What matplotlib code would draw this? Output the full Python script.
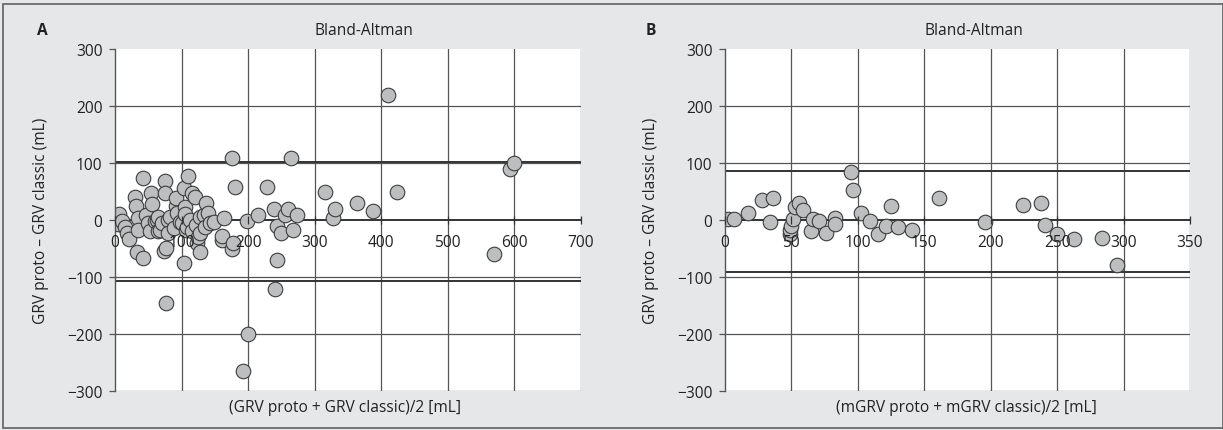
import matplotlib
matplotlib.use("Agg")
import matplotlib.pyplot as plt
from matplotlib.patches import Rectangle

plt.rcParams['font.family'] = ['Open Sans', 'DejaVu Sans']

# ---------------- data ----------------
a_mean = [0, 3, 5, 6, 10, 15, 18, 21, 30, 32, 34, 35, 33, 42, 42, 47, 50, 53, 54, 55,
          60, 63, 65, 65, 68, 70, 73, 75, 75, 76, 77, 80, 80, 83, 88, 91, 92, 93, 98, 101,
          103, 103, 105, 105, 106, 108, 110, 113, 115, 115, 120, 122, 123, 125, 128, 128, 128,
          134, 135, 137, 140, 143, 148, 160, 161, 163, 175, 178, 175, 180, 198, 192, 200, 215,
          229, 239, 240, 244, 244, 250, 255, 260, 265, 268, 273, 315, 328, 330, 363, 388,
          410, 424, 570, 594, 599]
a_diff = [1, 6, -7, 10, -2, -12, -22, -34, 40, 24, 3, -18, -56, -66, 74, 8, -6, -20, 48, 28,
          -2, 0, 6, -20, -17, -6, -55, 68, 48, -49, -146, 0, -23, 5, -14, 24, 38, 12, -3, -5,
          -76, 56, 23, 10, -17, -12, 77, 0, 48, -20, 40, -9, -41, -29, -57, 6, -23,
          9, -12, 29, 13, -6, -3, -35, -28, 4, -50, -41, 108, 58, -2, -265, -200, 9,
          58, 20, -121, -71, -10, -23, 9, 20, 108, -17, 9, 49, 4, 20, 29, 15,
          220, 49, -60, 90, 100]
a_limits = [102, 0, -107]      # upper LoA, mean, lower LoA

b_mean = [2, 7, 17, 28, 36, 34, 49, 49, 50, 51, 53, 56, 59, 65, 66, 71, 76, 83, 83, 95,
          96, 102, 109, 115, 121, 125, 130, 141, 161, 196, 224, 238, 241, 250, 263, 284, 295]
b_diff = [1, 1, 12, 35, 39, -4, -25, -17, -10, 1, 22, 29, 18, -19, 1, -2, -22, 4, -7, 85,
          53, 12, -2, -25, -10, 24, -12, -18, 38, -3, 27, 29, -9, -25, -34, -32, -79]
b_limits = [86, 0, -91]

yticks = [-300, -200, -100, 0, 100, 200, 300]
a_xticks = [0, 100, 200, 300, 400, 500, 600, 700]
b_xticks = [0, 50, 100, 150, 200, 250, 300, 350]

a_xlabel = "(GRV proto + GRV classic)/2 [mL]"
b_xlabel = "(mGRV proto + mGRV classic)/2 [mL]"
ylabel = "GRV proto \u2013 GRV classic (mL)"
title = "Bland-Altman"

# ---------------- figure ----------------
W, H = 1223, 431
fig = plt.figure(figsize=(W / 100, H / 100), dpi=100)
fig.patch.set_facecolor('#e6e7e8')
fig.patches.append(Rectangle((2.5 / W, 2.5 / H), (W - 3) / W, (H - 7) / H,
                             transform=fig.transFigure, fill=False,
                             edgecolor='#6a6a6a', linewidth=1.3))

grid_c = '#555555'
line_c = '#333333'
fs = 11.2


def panel(rect, xs, ys, limits, xticks, xlabel, letter, title_x, letter_x, xlabel_x):
    ax = fig.add_axes(rect)
    ax.set_facecolor('white')
    ax.set_xlim(xticks[0], xticks[-1])
    ax.set_ylim(yticks[0], yticks[-1])
    for s in ['top', 'right']:
        ax.spines[s].set_visible(False)
    ax.spines['left'].set_color(grid_c)
    ax.spines['left'].set_linewidth(1.0)
    ax.spines['bottom'].set_position(('data', 0))
    ax.spines['bottom'].set_visible(False)
    # grid
    for y in yticks[:-1]:
        if y == 0:
            continue
        ax.axhline(y, color=grid_c, lw=0.9, zorder=1)
    for x in xticks[1:]:
        ax.axvline(x, color=grid_c, lw=0.9, zorder=1)
    # limits of agreement and mean
    for v in limits:
        ax.axhline(v, color=line_c, lw=1.4, zorder=1.2)
    ax.scatter(xs, ys, s=110, facecolor='#bcbec0', edgecolor='#3c3c3c',
               linewidth=0.8, zorder=2)
    ax.set_xticks(xticks)
    ax.set_yticks(yticks)
    ax.set_yticklabels([str(t).replace('-', '\u2212') for t in yticks])
    ax.tick_params(axis='y', direction='out', length=4, width=0.9, color=grid_c,
                   pad=5, labelsize=fs, labelcolor='#222222')
    ax.tick_params(axis='x', direction='inout', length=6, width=0.9, color=line_c,
                   pad=7, labelsize=fs, labelcolor='#222222')
    ax.set_axisbelow(False)
    for t in ax.get_xticklabels() + ax.get_yticklabels():
        t.set_zorder(3)
    fig.text(title_x / W, 1 - 31 / H, title, ha='center', va='center',
             fontsize=fs, color='#222222')
    fig.text(letter_x / W, 1 - 31 / H, letter, ha='center', va='center',
             fontsize=fs, fontweight='bold', color='#222222')
    fig.text(xlabel_x / W, 1 - 408 / H, xlabel, ha='center', va='center',
             fontsize=fs, color='#222222')
    return ax


top = 1 - 50 / H
bot = 1 - 392 / H
axA = panel([115 / W, bot, (581 - 115) / W, top - bot], a_mean, a_diff, a_limits,
            a_xticks, a_xlabel, 'A', 364, 42, 345)
axB = panel([725 / W, bot, (1190 - 725) / W, top - bot], b_mean, b_diff, b_limits,
            b_xticks, b_xlabel, 'B', 974, 651, 966)

fig.text(41 / W, 1 - 221 / H, ylabel, rotation=90, ha='center', va='center',
         fontsize=fs, color='#222222')
fig.text(651 / W, 1 - 221 / H, ylabel, rotation=90, ha='center', va='center',
         fontsize=fs, color='#222222')

fig.savefig('out.png', dpi=100, facecolor=fig.get_facecolor())
